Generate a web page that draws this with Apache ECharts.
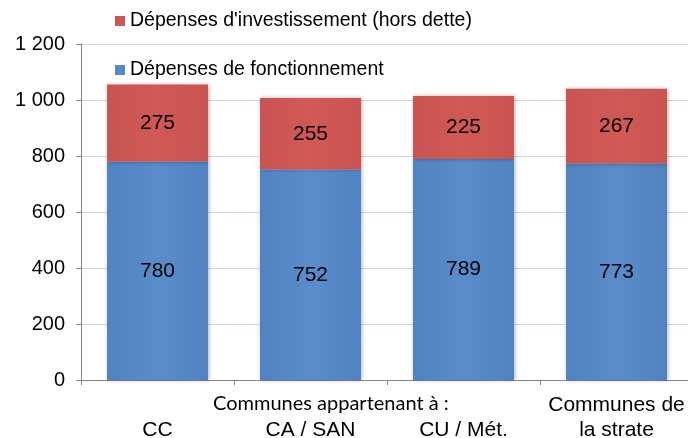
<!DOCTYPE html>
<html>
<head>
<meta charset="utf-8">
<script src="https://cdn.jsdelivr.net/npm/echarts@6/dist/echarts.min.js"></script>
<style>
html, body { margin: 0; padding: 0; background: #fff; }
#chart { width: 688px; height: 438px; }
</style>
</head>
<body>
<div id="chart"></div>
<script>
const categories = ['CC', 'CA / SAN', 'CU / Mét.', 'Communes de\nla strate']
const fonctionnement = [780, 752, 789, 773]
const investissement = [275, 255, 225, 267]
const seriesNames = ["Dépenses de fonctionnement", "Dépenses d'investissement (hors dette)"]
const groupLabel = 'Communes appartenant à :'

const arial = '"Liberation Sans", Arial, sans-serif'

function grad(edge, mid) {
    return new echarts.graphic.LinearGradient(0, 0, 1, 0, [
        {offset: 0, color: edge},
        {offset: 0.5, color: mid},
        {offset: 1, color: edge}
    ])
}

const chart = echarts.init(document.getElementById('chart'))
chart.setOption({
    animation: false,
    textStyle: { fontFamily: arial },
    legend: {
        orient: 'vertical',
        left: 110,
        top: 5,
        itemGap: 27,
        itemWidth: 10,
        itemHeight: 10,
        icon: 'rect',
        data: [seriesNames[1], seriesNames[0]],
        textStyle: { fontSize: 19.5, color: '#000', fontFamily: arial, lineHeight: 22 }
    },
    grid: { left: 81, top: 44, width: 612, height: 336, outerBoundsMode: 'none', containLabel: false },
    xAxis: {
        type: 'category',
        data: categories,
        axisLine: { lineStyle: { color: '#868686' } },
        axisTick: { show: true, length: 5, interval: 0, lineStyle: { color: '#868686' } },
        axisLabel: {
            color: '#000', fontSize: 21, fontFamily: arial, interval: 0, hideOverlap: false,
            verticalAlign: 'bottom', margin: 63, lineHeight: 25
        }
    },
    yAxis: {
        type: 'value',
        min: 0, max: 1200, interval: 200,
        axisLine: { show: true, lineStyle: { color: '#868686' } },
        axisTick: { show: true, length: 5, lineStyle: { color: '#868686' } },
        splitLine: { lineStyle: { color: '#c6d9f1' } },
        axisLabel: {
            color: '#000', fontSize: 20, margin: 16, fontFamily: arial,
            formatter: v => String(v).replace(/\B(?=(\d{3})+(?!\d))/g, ' ')
        }
    },
    graphic: [{
        type: 'text',
        left: 213, top: 394,
        style: { text: groupLabel, fontSize: 20, fontFamily: 'Lato, "Open Sans", sans-serif', fill: '#000' }
    }],
    series: [{
        name: seriesNames[0],
        type: 'bar',
        stack: 'total',
        barWidth: '66%',
        data: fonctionnement,
        color: '#5586c6',
        itemStyle: {
            color: grad('#5182c2', '#5a8ccb'),
            shadowColor: 'rgba(0,0,0,0.3)', shadowBlur: 4, shadowOffsetX: 1
        },
        label: { show: true, position: 'inside', fontSize: 21, color: '#000', fontFamily: arial }
    }, {
        name: seriesNames[1],
        type: 'bar',
        stack: 'total',
        data: investissement,
        color: '#cd5452',
        itemStyle: {
            color: grad('#ca5451', '#d05956'),
            shadowColor: 'rgba(0,0,0,0.3)', shadowBlur: 4, shadowOffsetX: 1
        },
        label: { show: true, position: 'inside', fontSize: 21, color: '#000', fontFamily: arial }
    }]
})
</script>
</body>
</html>
